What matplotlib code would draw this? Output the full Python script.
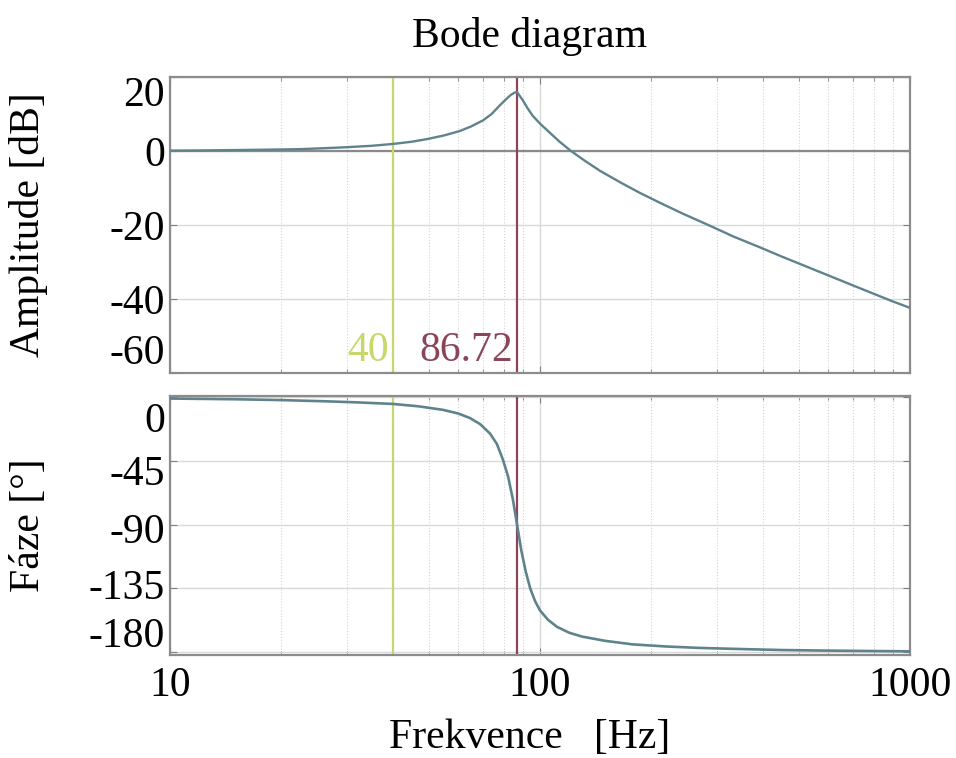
import matplotlib.pyplot as plt
from matplotlib.ticker import FixedLocator, NullFormatter, LogLocator
from matplotlib.transforms import ScaledTranslation

plt.rcParams['font.family'] = ['Liberation Serif', 'DejaVu Serif']

# amplitude curve
amp_freq = [10, 12, 15, 18, 22.4, 26, 29.7, 35, 40, 45, 49.4, 55, 60.7, 65,
            70.2, 74, 78, 81, 83.5, 85.5, 86.72, 88, 90, 92.5, 95.6, 100,
            106.4, 113, 120.9, 132, 145.5, 165, 186, 214, 244, 285, 333, 390,
            452, 530, 618, 700, 794, 890, 1000]
amp_db = [0.1, 0.15, 0.25, 0.35, 0.5, 0.75, 1.0, 1.4, 1.9, 2.5, 3.2, 4.2, 5.4,
          6.6, 8.3, 10.0, 12.4, 14.0, 15.2, 15.8, 15.9, 15.0, 13.6, 11.6, 9.5,
          7.4, 4.9, 2.5, 0.1, -2.6, -5.4, -8.5, -11.3, -14.3, -17.0, -20.0,
          -23.1, -25.9, -28.6, -31.4, -34.1, -36.3, -38.5, -40.5, -42.4]

# phase curve
ph_freq = [10, 15, 20, 26, 32, 40, 47, 54.7, 60, 64.7, 69, 73.3, 76.5, 79.4,
           82, 84.4, 86.72, 89, 91.5, 94.1, 97, 100, 105, 111, 120, 130, 150,
           178, 220, 270, 350, 452, 600, 800, 1000]
ph_deg = [-0.8, -1.3, -1.9, -2.7, -3.5, -4.6, -6.3, -8.8, -11.3, -14.6, -19,
          -25.6, -33, -44, -56, -71.5, -90, -108, -123, -135, -144, -150.5,
          -157, -162, -166.3, -169, -172, -174.5, -176, -177, -177.8, -178.5,
          -178.9, -179.2, -179.4]

marker_freqs = [40, 86.72]
marker_labels = ['40', '86.72']
marker_colors = ['#c6d86a', '#8a4658']

amp_ticks = [-60, -40, -20, 0, 20]
ph_ticks = [-180, -135, -90, -45, 0]
x_ticks = [10, 100, 1000]

curve_color = '#5f838c'
fs = 30


def style_axes(ax):
    """
    common look of both panels
    """
    ax.set_xscale('log')
    ax.set_xlim(10, 1000)
    ax.xaxis.set_minor_locator(LogLocator(base=10, subs=range(2, 10)))
    ax.xaxis.set_minor_formatter(NullFormatter())
    ax.grid(True, which='major', color='#d9d9d9', lw=1.0, ls='-')
    ax.grid(True, which='minor', axis='x', color='#d4d4d4', lw=0.8, ls=':')
    ax.tick_params(which='both', direction='in', top=True, right=True,
                   colors='#808080', labelcolor='black', labelsize=fs)
    ax.tick_params(which='major', length=5)
    ax.tick_params(which='minor', length=3)
    for s in ax.spines.values():
        s.set_color('#8c8c8c')
        s.set_linewidth(1.6)
    ax.set_axisbelow(True)


fig = plt.figure(figsize=(9.56, 7.58), dpi=100)
ax1 = fig.add_axes([170 / 956, 1 - 373 / 758, 740 / 956, 296 / 758])
ax2 = fig.add_axes([170 / 956, 1 - 655 / 758, 740 / 956, 259 / 758])

# amplitude
style_axes(ax1)
ax1.axhline(0, color='#8a8a8a', lw=1.6, zorder=1)
ax1.plot(amp_freq, amp_db, color=curve_color, lw=1.7, zorder=3)
ax1.set_ylim(-60, 20)
ax1.yaxis.set_major_locator(FixedLocator(amp_ticks))
ax1.set_yticklabels([str(t) for t in amp_ticks])
ax1.xaxis.set_major_locator(FixedLocator(x_ticks))
ax1.set_xticklabels([])
labs = ax1.get_yticklabels()
labs[0].set_va('bottom')
labs[-1].set_va('top')
ax1.set_ylabel('Amplitude [dB]', fontsize=fs)
ax1.yaxis.set_label_coords(-0.165, 0.5)

for f, lab, c in zip(marker_freqs, marker_labels, marker_colors):
    ax1.axvline(f, color=c, lw=1.6, zorder=2)
    ax1.annotate(lab, xy=(f, -60), xytext=(-3, 2), textcoords='offset points',
                 ha='right', va='bottom', color=c, fontsize=fs)

# phase
style_axes(ax2)
ax2.plot(ph_freq, ph_deg, color=curve_color, lw=1.9, zorder=3)
ax2.set_ylim(-182, 1)
ax2.yaxis.set_major_locator(FixedLocator(ph_ticks))
ax2.set_yticklabels([str(t) for t in ph_ticks])
labs = ax2.get_yticklabels()
labs[0].set_va('bottom')
labs[-1].set_va('top')
# the labels in the original sit a bit off their grid lines
shifts = [-4, 4, -3, -9, -5]
for lab, dy in zip(labs, shifts):
    lab.set_transform(lab.get_transform() +
                      ScaledTranslation(0, dy / 100, fig.dpi_scale_trans))
ax2.xaxis.set_major_locator(FixedLocator(x_ticks))
ax2.set_xticklabels([str(t) for t in x_ticks])
ax2.tick_params(axis='x', pad=8)
ax2.set_ylabel('Fáze [°]', fontsize=fs)
ax2.yaxis.set_label_coords(-0.165, 0.5)
for f, c in zip(marker_freqs, marker_colors):
    ax2.axvline(f, color=c, lw=1.6, zorder=2)

fig.text(530 / 956, 1 - 36 / 758, 'Bode diagram', ha='center', va='center',
         fontsize=fs)
fig.text(530 / 956, 1 - 738 / 758, 'Frekvence   [Hz]', ha='center',
         va='center', fontsize=fs)

fig.savefig('out.png', dpi=100)
